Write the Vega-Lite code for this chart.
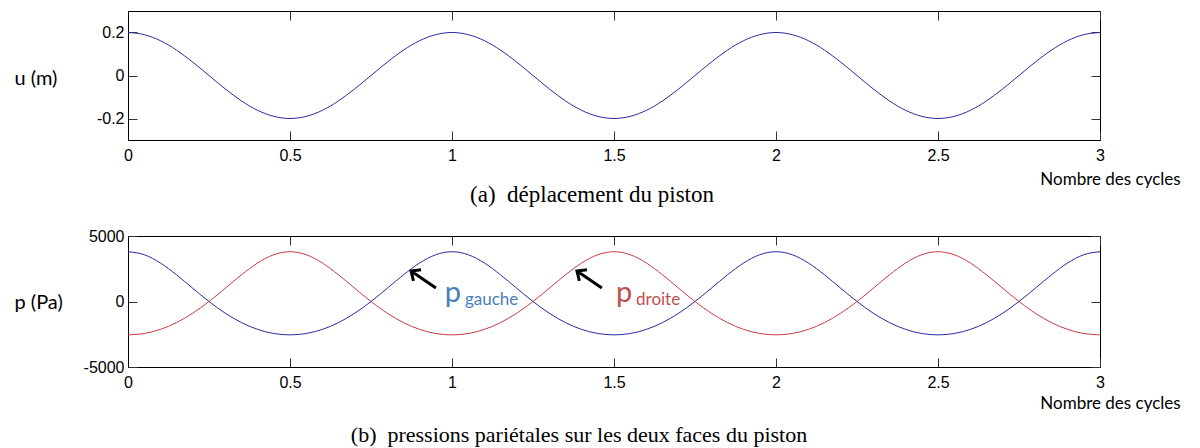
{
  "$schema": "https://vega.github.io/schema/vega-lite/v6.json",
  "padding": {"left": 13, "top": 10, "right": 0, "bottom": 0},
  "background": "white",
  "spacing": 19,
  "config": {
    "view": {"stroke": "black", "strokeWidth": 1},
    "axis": {"grid": false, "domainColor": "black", "tickColor": "#333", "tickSize": -9, "labelFont": "Liberation Sans", "labelFontSize": 16, "labelColor": "black", "titleFont": "Lato", "titleFontWeight": "normal", "titleColor": "black", "labelFlush": false}
  },
  "datasets": {
    "curves": [
      {"x":0,"u":0.2,"gauche":3800,"droite":-2548},{"x":0.05,"u":0.19,"gauche":3572,"droite":-2443},{"x":0.1,"u":0.162,"gauche":2939,"droite":-2129},{"x":0.15,"u":0.118,"gauche":2031,"droite":-1608},{"x":0.2,"u":0.062,"gauche":1006,"droite":-890},{"x":0.25,"u":0,"gauche":0,"droite":0},{"x":0.3,"u":-0.062,"gauche":-890,"droite":1006},{"x":0.35,"u":-0.118,"gauche":-1608,"droite":2031},{"x":0.4,"u":-0.162,"gauche":-2129,"droite":2939},{"x":0.45,"u":-0.19,"gauche":-2443,"droite":3572},
      {"x":0.5,"u":-0.2,"gauche":-2548,"droite":3800},{"x":0.55,"u":-0.19,"gauche":-2443,"droite":3572},{"x":0.6,"u":-0.162,"gauche":-2129,"droite":2939},{"x":0.65,"u":-0.118,"gauche":-1608,"droite":2031},{"x":0.7,"u":-0.062,"gauche":-890,"droite":1006},{"x":0.75,"u":0,"gauche":0,"droite":0},{"x":0.8,"u":0.062,"gauche":1006,"droite":-890},{"x":0.85,"u":0.118,"gauche":2031,"droite":-1608},{"x":0.9,"u":0.162,"gauche":2939,"droite":-2129},{"x":0.95,"u":0.19,"gauche":3572,"droite":-2443},
      {"x":1,"u":0.2,"gauche":3800,"droite":-2548},{"x":1.05,"u":0.19,"gauche":3572,"droite":-2443},{"x":1.1,"u":0.162,"gauche":2939,"droite":-2129},{"x":1.15,"u":0.118,"gauche":2031,"droite":-1608},{"x":1.2,"u":0.062,"gauche":1006,"droite":-890},{"x":1.25,"u":0,"gauche":0,"droite":0},{"x":1.3,"u":-0.062,"gauche":-890,"droite":1006},{"x":1.35,"u":-0.118,"gauche":-1608,"droite":2031},{"x":1.4,"u":-0.162,"gauche":-2129,"droite":2939},{"x":1.45,"u":-0.19,"gauche":-2443,"droite":3572},
      {"x":1.5,"u":-0.2,"gauche":-2548,"droite":3800},{"x":1.55,"u":-0.19,"gauche":-2443,"droite":3572},{"x":1.6,"u":-0.162,"gauche":-2129,"droite":2939},{"x":1.65,"u":-0.118,"gauche":-1608,"droite":2031},{"x":1.7,"u":-0.062,"gauche":-890,"droite":1006},{"x":1.75,"u":0,"gauche":0,"droite":0},{"x":1.8,"u":0.062,"gauche":1006,"droite":-890},{"x":1.85,"u":0.118,"gauche":2031,"droite":-1608},{"x":1.9,"u":0.162,"gauche":2939,"droite":-2129},{"x":1.95,"u":0.19,"gauche":3572,"droite":-2443},
      {"x":2,"u":0.2,"gauche":3800,"droite":-2548},{"x":2.05,"u":0.19,"gauche":3572,"droite":-2443},{"x":2.1,"u":0.162,"gauche":2939,"droite":-2129},{"x":2.15,"u":0.118,"gauche":2031,"droite":-1608},{"x":2.2,"u":0.062,"gauche":1006,"droite":-890},{"x":2.25,"u":0,"gauche":0,"droite":0},{"x":2.3,"u":-0.062,"gauche":-890,"droite":1006},{"x":2.35,"u":-0.118,"gauche":-1608,"droite":2031},{"x":2.4,"u":-0.162,"gauche":-2129,"droite":2939},{"x":2.45,"u":-0.19,"gauche":-2443,"droite":3572},
      {"x":2.5,"u":-0.2,"gauche":-2548,"droite":3800},{"x":2.55,"u":-0.19,"gauche":-2443,"droite":3572},{"x":2.6,"u":-0.162,"gauche":-2129,"droite":2939},{"x":2.65,"u":-0.118,"gauche":-1608,"droite":2031},{"x":2.7,"u":-0.062,"gauche":-890,"droite":1006},{"x":2.75,"u":0,"gauche":0,"droite":0},{"x":2.8,"u":0.062,"gauche":1006,"droite":-890},{"x":2.85,"u":0.118,"gauche":2031,"droite":-1608},{"x":2.9,"u":0.162,"gauche":2939,"droite":-2129},{"x":2.95,"u":0.19,"gauche":3572,"droite":-2443},
      {"x":3,"u":0.2,"gauche":3800,"droite":-2548}
    ],
    "arrows": [{"x":0.912,"y":1679},{"x":1.424,"y":1679}],
    "bigp": [{"x":0.978,"y":0,"t":"p","side":"gauche"},{"x":1.506,"y":0,"t":"p","side":"droite"}],
    "subs": [{"x":1.04,"y":-305,"t":"gauche","side":"gauche"},{"x":1.568,"y":-305,"t":"droite","side":"droite"}]
  },
  "vconcat": [
    {
      "width": 972,
      "height": 129,
      "title": {"text": "(a)\u00a0 déplacement du piston", "orient": "bottom", "anchor": "middle", "frame": "group", "font": "Liberation Serif", "fontSize": 23, "fontWeight": "normal", "color": "black", "dx": -22, "offset": 15, "baseline": "alphabetic"},
      "data": {"name": "curves"},
      "layer": [
        {
          "mark": {"type": "line", "color": "#2b2b9f", "strokeWidth": 1, "interpolate": "monotone"},
          "encoding": {
            "x": {"field": "x", "type": "quantitative", "scale": {"domain": [0, 3], "nice": false, "zero": false},
              "axis": {"values": [0, 0.5, 1, 1.5, 2, 2.5, 3], "labelExpr": "toString(datum.value)", "labelPadding": 16, "title": "Nombre des cycles", "titleX": 982, "titleY": 44, "titleAlign": "center", "titleAnchor": null, "titleBaseline": "alphabetic", "titleFontSize": 17}},
            "y": {"field": "u", "type": "quantitative", "scale": {"domain": [-0.3, 0.3], "nice": false},
              "axis": {"values": [-0.2, 0, 0.2], "labelExpr": "toString(datum.value)", "labelPadding": 13, "title": "u (m)", "titleAngle": 0, "titleAlign": "left", "titleBaseline": "middle", "titleX": -114, "titleY": 67, "titleFontSize": 20}}
          }
        },
        {
          "mark": {"type": "point", "opacity": 0},
          "encoding": {
            "x": {"field": "x", "type": "quantitative", "axis": {"orient": "top", "values": [0, 0.5, 1, 1.5, 2, 2.5, 3], "labels": false, "title": null, "domain": false}},
            "y": {"field": "u", "type": "quantitative", "axis": {"orient": "right", "values": [-0.2, 0, 0.2], "labels": false, "title": null, "domain": false}}
          }
        }
      ],
      "resolve": {"axis": {"x": "independent", "y": "independent"}}
    },
    {
      "width": 972,
      "height": 131,
      "title": {"text": "(b)\u00a0 pressions pariétales sur les deux faces du piston", "orient": "bottom", "anchor": "middle", "frame": "group", "font": "Liberation Serif", "fontSize": 22, "fontWeight": "normal", "color": "black", "dx": -35, "offset": 31, "baseline": "alphabetic"},
      "layer": [
        {
          "data": {"name": "curves"},
          "transform": [{"fold": ["gauche", "droite"], "as": ["side", "p"]}],
          "mark": {"type": "line", "strokeWidth": 1, "interpolate": "monotone"},
          "encoding": {
            "x": {"field": "x", "type": "quantitative", "scale": {"domain": [0, 3], "nice": false, "zero": false},
              "axis": {"values": [0, 0.5, 1, 1.5, 2, 2.5, 3], "labelExpr": "toString(datum.value)", "labelPadding": 16, "title": "Nombre des cycles", "titleX": 982, "titleY": 41, "titleAlign": "center", "titleAnchor": null, "titleBaseline": "alphabetic", "titleFontSize": 17}},
            "y": {"field": "p", "type": "quantitative", "scale": {"domain": [-5000, 5000], "nice": false},
              "axis": {"values": [-5000, 0, 5000], "labelExpr": "toString(datum.value)", "labelPadding": 13, "title": "p (Pa)", "titleAngle": 0, "titleAlign": "left", "titleBaseline": "middle", "titleX": -114, "titleY": 66, "titleFontSize": 20}},
            "stroke": {"field": "side", "type": "nominal", "scale": {"domain": ["gauche", "droite"], "range": ["#2b2b9f", "#c83c46"]}, "legend": null}
          }
        },
        {
          "data": {"name": "curves"},
          "transform": [{"fold": ["gauche", "droite"], "as": ["side", "p"]}],
          "mark": {"type": "point", "opacity": 0},
          "encoding": {
            "x": {"field": "x", "type": "quantitative", "axis": {"orient": "top", "values": [0, 0.5, 1, 1.5, 2, 2.5, 3], "labels": false, "title": null, "domain": false}},
            "y": {"field": "p", "type": "quantitative", "axis": {"orient": "right", "values": [-5000, 0, 5000], "labels": false, "title": null, "domain": false}}
          }
        },
        {
          "data": {"name": "arrows"},
          "mark": {"type": "point", "shape": "M0,1L0,-1M-0.45,-0.5L0,-1L0.45,-0.5", "size": 900, "angle": 304, "filled": false, "stroke": "black", "strokeWidth": 3, "opacity": 1},
          "encoding": {
            "x": {"field": "x", "type": "quantitative", "axis": null},
            "y": {"field": "y", "type": "quantitative", "axis": null}
          }
        },
        {
          "data": {"name": "bigp"},
          "mark": {"type": "text", "font": "Lato", "fontSize": 29, "align": "left", "baseline": "alphabetic"},
          "encoding": {
            "x": {"field": "x", "type": "quantitative", "axis": null},
            "y": {"field": "y", "type": "quantitative", "axis": null},
            "text": {"field": "t"},
            "fill": {"field": "side", "type": "nominal", "scale": {"domain": ["gauche", "droite"], "range": ["#4a7ebb", "#c0504d"]}, "legend": null}
          }
        },
        {
          "data": {"name": "subs"},
          "mark": {"type": "text", "font": "Lato", "fontSize": 17, "align": "left", "baseline": "alphabetic"},
          "encoding": {
            "x": {"field": "x", "type": "quantitative", "axis": null},
            "y": {"field": "y", "type": "quantitative", "axis": null},
            "text": {"field": "t"},
            "fill": {"field": "side", "type": "nominal", "scale": {"domain": ["gauche", "droite"], "range": ["#4a7ebb", "#c0504d"]}, "legend": null}
          }
        }
      ],
      "resolve": {"axis": {"x": "independent", "y": "independent"}}
    }
  ]
}
